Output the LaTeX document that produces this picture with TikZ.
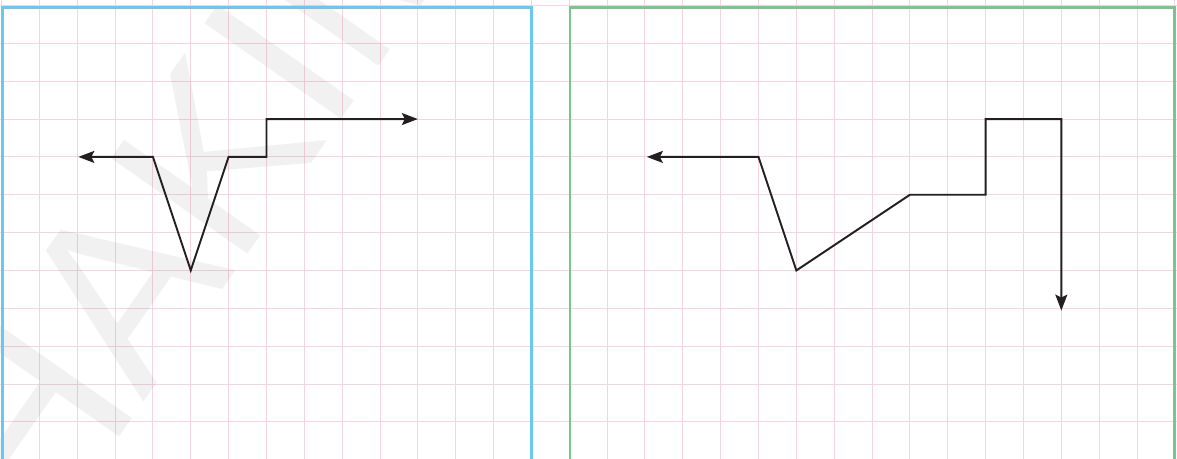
\documentclass[tikz,border=0pt]{standalone}
\usepackage{fontspec}
\newfontfamily\wmfont{Liberation Sans}
\usetikzlibrary{arrows.meta}
\definecolor{gridpink}{RGB}{245,212,224}
\definecolor{panelblue}{RGB}{104,200,242}
\definecolor{panelgreen}{RGB}{122,196,142}
\definecolor{inkblack}{RGB}{35,31,32}
\tikzset{
  gridline/.style={draw=gridpink, line width=1pt},
  panelbox/.style={line width=2.8pt},
  watermark/.style={anchor=base west, rotate=55, inner sep=0pt, text=black, text opacity=0.055,
      font=\wmfont\fontsize{242}{242}\selectfont},
  pathline/.style={draw=inkblack, line width=1.9pt, line join=miter,
    {Stealth[length=16pt,width=12pt,inset=3pt]}-{Stealth[length=16pt,width=12pt,inset=3pt]}},
}
\begin{document}
\begin{tikzpicture}[x=37.85pt, y=-37.85pt]
\useasboundingbox (-0.0396,-0.1453) rectangle (31.056,11.981);
\clip (-0.0396,-0.1453) rectangle (31.056,11.981);
% grid
\foreach \i in {0,...,31} \draw[gridline] (\i,-1) -- (\i,13);
\foreach \j in {0,...,12} \draw[gridline] (-1,\j) -- (32,\j);
% watermark
\node[watermark] (wm) at (1.099,14.27) {HAKIM};
% panels
\draw[panelbox, draw=panelblue] (0.035,13) -- (0.035,0.048) -- (14.005,0.048) -- (14.005,13);
\draw[panelbox, draw=panelgreen] (15.02,13) -- (15.02,0.055) -- (31.0,0.055) -- (31.0,13);
% left path
\coordinate (a0) at (2.03,4);
\coordinate (a1) at (4,4);
\coordinate (a2) at (5,7);
\coordinate (a3) at (6,4);
\coordinate (a4) at (7,4);
\coordinate (a5) at (7,3);
\coordinate (a6) at (11,3);
\draw[pathline] (a0) -- (a1) -- (a2) -- (a3) -- (a4) -- (a5) -- (a6);
% right path
\coordinate (b0) at (17.05,4);
\coordinate (b1) at (20,4);
\coordinate (b2) at (21,7);
\coordinate (b3) at (24,5);
\coordinate (b4) at (26,5);
\coordinate (b5) at (26,3);
\coordinate (b6) at (28,3);
\coordinate (b7) at (28,8.06);
\draw[pathline] (b0) -- (b1) -- (b2) -- (b3) -- (b4) -- (b5) -- (b6) -- (b7);
\end{tikzpicture}
\end{document}
